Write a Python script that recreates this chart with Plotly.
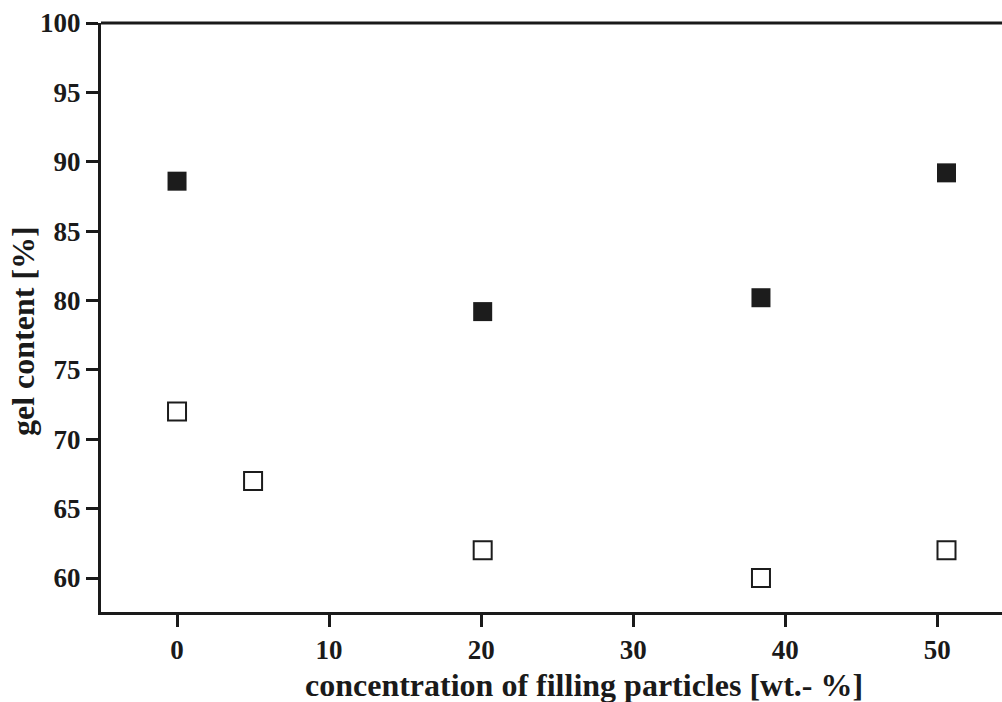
import plotly.graph_objects as go

filled_x = [0.0, 20.1, 38.4, 50.6]
filled_y = [88.6, 79.2, 80.2, 89.2]
open_x = [0.0, 5.0, 20.1, 38.4, 50.6]
open_y = [72.0, 67.0, 62.0, 60.0, 62.0]

x_ticks = [0, 10, 20, 30, 40, 50]
y_ticks = [60, 65, 70, 75, 80, 85, 90, 95, 100]

x_title = "concentration of filling particles [wt.- %]"
y_title = "gel content [%]"

font_family = "Liberation Serif, Times New Roman, serif"
ink = "#1a1a1a"

fig = go.Figure()
fig.add_trace(go.Scatter(
    x=filled_x, y=filled_y, mode="markers",
    marker=dict(symbol="square", size=19, color="#1c1c1c",
                line=dict(width=0)),
    showlegend=False))
fig.add_trace(go.Scatter(
    x=open_x, y=open_y, mode="markers",
    marker=dict(symbol="square-open", size=18, color="#1c1c1c",
                line=dict(width=2)),
    showlegend=False))

fig.update_layout(
    width=1002, height=702,
    margin=dict(l=101, r=0, t=23, b=90),
    paper_bgcolor="white", plot_bgcolor="white",
    font=dict(family=font_family, color=ink, size=27),
    xaxis=dict(
        range=[-5.0, 54.25], tickvals=x_ticks,
        showline=True, linecolor=ink, linewidth=3, mirror=False,
        ticks="outside", ticklen=12, tickwidth=3, tickcolor=ink,
        showgrid=False, zeroline=False,
        tickfont=dict(family=font_family, size=27, weight="bold"),
    ),
    yaxis=dict(
        range=[57.55, 100.0], tickvals=y_ticks,
        showline=True, linecolor=ink, linewidth=3,
        ticks="outside", ticklen=12, tickwidth=3, tickcolor=ink,
        showgrid=False, zeroline=False,
        tickfont=dict(family=font_family, size=27, weight="bold"),
    ),
)
fig.add_shape(type="line", xref="paper", yref="paper", x0=0, x1=1, y0=1, y1=1,
              line=dict(color=ink, width=3))
fig.add_annotation(text="<b>" + x_title + "</b>", xref="paper", yref="paper",
                   x=0.536, y=-0.124, xanchor="center", yanchor="middle",
                   showarrow=False, font=dict(family=font_family, size=32, color=ink))
fig.add_annotation(text="<b>" + y_title + "</b>", xref="paper", yref="paper",
                   x=-0.0866, y=0.477, xanchor="center", yanchor="middle",
                   textangle=-90, showarrow=False,
                   font=dict(family=font_family, size=32, color=ink))

fig.write_html("out.html")
